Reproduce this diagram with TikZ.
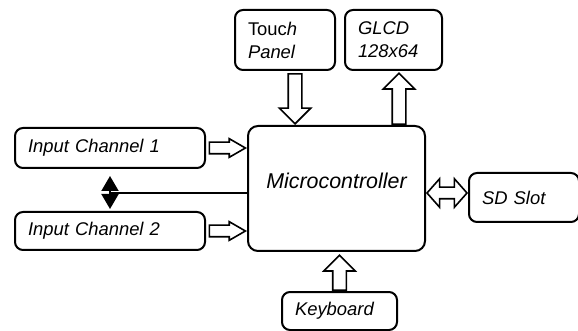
\documentclass[tikz,border=0pt]{standalone}
\usepackage{fontspec}
\setmainfont{Liberation Sans}
\usetikzlibrary{
    arrows.meta,
    shapes.arrows,
    positioning,
    calc
}
\tikzstyle{block} = [
    rectangle,
    rounded corners=4pt,
    draw=black,
    line width=1pt,
    align=left,
    inner xsep=6.5pt,
    font=\itshape\fontsize{9.2}{11.5}\selectfont
]
\tikzstyle{cpu} = [
    rectangle,
    rounded corners=5pt,
    draw=black,
    line width=1pt,
    minimum width=88.5pt,
    minimum height=62.5pt,
    text depth=7.5pt,
    font=\itshape\fontsize{10.7}{13}\selectfont
]
\tikzstyle{hollow} = [
    single arrow,
    draw=black,
    line width=0.8pt,
    fill=white,
    inner xsep=0pt,
    inner ysep=3pt,
    single arrow head extend=4.5pt,
    single arrow tip angle=90
]
\tikzstyle{hollowboth} = [
    double arrow,
    draw=black,
    line width=0.8pt,
    fill=white,
    inner xsep=0pt,
    inner ysep=2.5pt,
    double arrow head extend=4.25pt,
    double arrow tip angle=97
]
\tikzstyle{bus} = [
    {Triangle[width=8.5pt,length=7.5pt]}-{Triangle[width=8.5pt,length=7.5pt]},
    line width=1pt
]

\begin{document}
\begin{tikzpicture}[x=0.5pt, y=-0.5pt]
        \useasboundingbox (0,0) rectangle (578,331);

        \node[cpu] (mcu) at (336.5,188.5) {Microcontroller};

        \node[block, text width=82pt, minimum height=20pt, below left=1pt and 20.5pt of mcu.north west] (in1) {Input Channel 1};
        \node[block, text width=82pt, minimum height=19pt, above left=0.5pt and 20.5pt of mcu.south west] (in2) {Input Channel 2};
        \node[block, text width=37pt, minimum height=30pt, above right=27pt and -6.5pt of mcu.north west] (touch) {{\upshape Touc}h\\Panel};
        \node[block, text width=35.5pt, minimum height=30pt, right=4pt of touch] (glcd) {GLCD\\128x64};
        \node[block, text width=42pt, minimum height=24.5pt, right=21pt of mcu, yshift=-4.5pt] (sd) {SD Slot};
        \node[block, text width=44.5pt, minimum height=19pt, below=19.5pt of mcu, xshift=1.5pt] (kbd) {Keyboard};

        \node[hollow, minimum height=18pt, inner ysep=2.5pt, single arrow head extend=1.75pt, single arrow tip angle=60, anchor=tip] (arr1) at (in1.east -| mcu.west) {};
        \node[hollow, minimum height=18pt, inner ysep=2.5pt, single arrow head extend=1.75pt, single arrow tip angle=60, anchor=tip] (arr2) at (in2.east -| mcu.west) {};
        \node[hollow, minimum height=25pt, rotate=-90, anchor=tip] (arrtouch) at ($(touch.south |- mcu.north)+(5pt,0)$) {};
        \node[hollow, minimum height=25.5pt, rotate=90, anchor=tail] (arrglcd) at ($(glcd.south |- mcu.north)+(2.75pt,0)$) {};
        \node[hollow, minimum height=17.5pt, rotate=90, anchor=tail] (arrkbd) at (kbd.north) {};
        \node[hollowboth, minimum height=20pt] (arrsd) at ($(mcu.east)!0.5!(sd.west)$) {};

        \coordinate (link) at ($($(in1.south)!0.5!(in2.north)$)+(0,-1.5pt)$);
        \draw[line width=1pt] (mcu.west |- link) -- (link);
        \draw[bus, shorten <=3.5pt, shorten >=1pt] (in1.south) -- (in2.north);
    \end{tikzpicture}
\end{document}
